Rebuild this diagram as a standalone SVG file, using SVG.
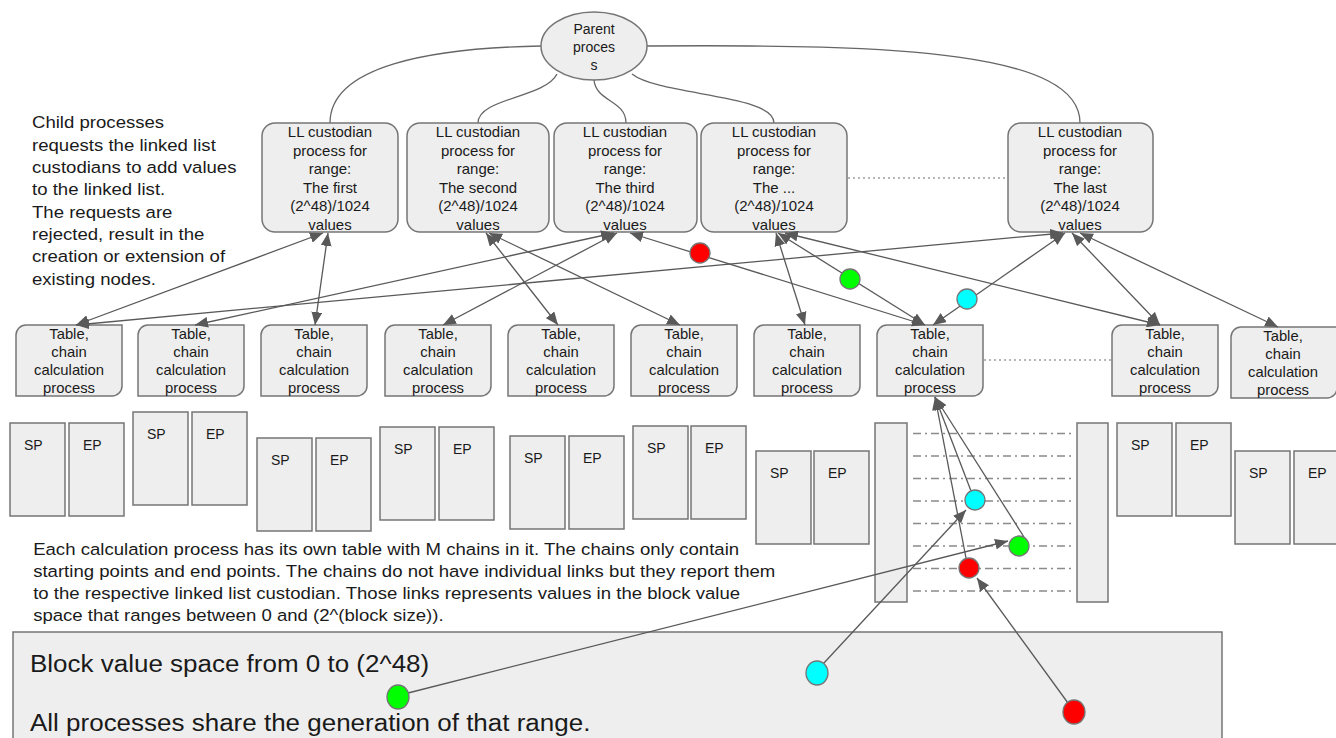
<svg xmlns="http://www.w3.org/2000/svg" xmlns:xlink="http://www.w3.org/1999/xlink" width="1336" height="738" viewBox="0 0 1336 738">
  <style>
    .box { fill: #eeeeee; stroke: #757575; stroke-width: 1.5; }
    .lbl { font-family: "Liberation Sans", Arial, sans-serif; font-size: 14px; fill: #1a1a1a; text-anchor: middle; }
    .sp { font-family: "Liberation Sans", Arial, sans-serif; font-size: 14px; fill: #1a1a1a; }
    .note { font-family: "Liberation Sans", Arial, sans-serif; font-size: 16.5px; fill: #1a1a1a; }
    .big { font-family: "Liberation Sans", Arial, sans-serif; font-size: 23px; fill: #1a1a1a; }
    .link { fill: none; stroke: #595959; stroke-width: 1.3; }
    .curve { fill: none; stroke: #666666; stroke-width: 1.3; }
    .both { marker-start: url(#ah); marker-end: url(#ah); }
    .one { marker-end: url(#ah); }
    .dots { fill: none; stroke: #9e9e9e; stroke-width: 1.3; stroke-dasharray: 2 3; }
    .dashdot { fill: none; stroke: #8a8a8a; stroke-width: 1.5; stroke-dasharray: 8 4 2 4; }
    .dot { stroke: #757575; stroke-width: 1.3; }
  </style>
  <defs>
    <marker id="ah" viewBox="0 0 12 10" refX="12" refY="5" markerWidth="13" markerHeight="11" markerUnits="userSpaceOnUse" orient="auto-start-reverse">
      <path d="M0,0 L12,5 L0,10 z" fill="#595959"/>
    </marker>
    <!-- chain calculation box: rounded top-left and bottom-right corners -->
    <path id="tbl" class="box" d="M10,0 H106 V61 A10,10 0 0 1 96,71 H0 V10 A10,10 0 0 1 10,0 Z"/>
    <rect id="col" class="box" width="55" height="93"/>
    <!-- label stacks, centred on x=0, slightly widened -->
    <g id="calc-text" transform="scale(1.06,1)">
      <text class="lbl" x="0" y="14">Table,</text>
      <text class="lbl" x="0" y="32">chain</text>
      <text class="lbl" x="0" y="50">calculation</text>
      <text class="lbl" x="0" y="68">process</text>
    </g>
  </defs>

  <rect width="1336" height="738" fill="#ffffff"/>

  <!-- bottom value-space panel -->
  <g id="value-space">
    <rect class="box" x="13" y="632" width="1209" height="120"/>
    <g transform="matrix(1.13,0,0,1,-3.9,0)">
      <text class="big" x="30" y="672">Block value space from 0 to (2^48)</text>
      <text class="big" x="30" y="731">All processes share the generation of that range.</text>
    </g>
  </g>

  <!-- parent to custodian curves -->
  <g id="tree">
    <path class="curve" d="M541,46 C430,48 330,66 330,123"/>
    <path class="curve" d="M557,74 C545,98 478,98 478,123"/>
    <path class="curve" d="M594,80 C596,102 626,100 626,123"/>
    <path class="curve" d="M632,74 C660,96 774,94 774,123"/>
    <path class="curve" d="M647,46 C900,44 1080,52 1080,123"/>
  </g>

  <g id="parent">
    <ellipse class="box" cx="594" cy="46" rx="53" ry="34"/>
    <text class="lbl" x="594" y="34">Parent</text>
    <text class="lbl" x="594" y="52">proces</text>
    <text class="lbl" x="594" y="70">s</text>
  </g>

  <!-- linked list custodians -->
  <g id="custodian-1">
    <rect class="box" x="262" y="123" width="136" height="109" rx="13"/>
    <g transform="translate(330,0) scale(1.07,1)">
      <text class="lbl" x="0" y="137.5">LL custodian</text>
      <text class="lbl" x="0" y="156">process for</text>
      <text class="lbl" x="0" y="174.5">range:</text>
      <text class="lbl" x="0" y="193">The first</text>
      <text class="lbl" x="0" y="211.5">(2^48)/1024</text>
      <text class="lbl" x="0" y="230">values</text>
    </g>
  </g>
  <g id="custodian-2">
    <rect class="box" x="407" y="123" width="142" height="109" rx="13"/>
    <g transform="translate(478,0) scale(1.07,1)">
      <text class="lbl" x="0" y="137.5">LL custodian</text>
      <text class="lbl" x="0" y="156">process for</text>
      <text class="lbl" x="0" y="174.5">range:</text>
      <text class="lbl" x="0" y="193">The second</text>
      <text class="lbl" x="0" y="211.5">(2^48)/1024</text>
      <text class="lbl" x="0" y="230">values</text>
    </g>
  </g>
  <g id="custodian-3">
    <rect class="box" x="554" y="123" width="143" height="109" rx="13"/>
    <g transform="translate(625,0) scale(1.07,1)">
      <text class="lbl" x="0" y="137.5">LL custodian</text>
      <text class="lbl" x="0" y="156">process for</text>
      <text class="lbl" x="0" y="174.5">range:</text>
      <text class="lbl" x="0" y="193">The third</text>
      <text class="lbl" x="0" y="211.5">(2^48)/1024</text>
      <text class="lbl" x="0" y="230">values</text>
    </g>
  </g>
  <g id="custodian-4">
    <rect class="box" x="701" y="123" width="146" height="109" rx="13"/>
    <g transform="translate(774,0) scale(1.07,1)">
      <text class="lbl" x="0" y="137.5">LL custodian</text>
      <text class="lbl" x="0" y="156">process for</text>
      <text class="lbl" x="0" y="174.5">range:</text>
      <text class="lbl" x="0" y="193">The ...</text>
      <text class="lbl" x="0" y="211.5">(2^48)/1024</text>
      <text class="lbl" x="0" y="230">values</text>
    </g>
  </g>
  <g id="custodian-last">
    <rect class="box" x="1008" y="123" width="145" height="109" rx="13"/>
    <g transform="translate(1080,0) scale(1.07,1)">
      <text class="lbl" x="0" y="137.5">LL custodian</text>
      <text class="lbl" x="0" y="156">process for</text>
      <text class="lbl" x="0" y="174.5">range:</text>
      <text class="lbl" x="0" y="193">The last</text>
      <text class="lbl" x="0" y="211.5">(2^48)/1024</text>
      <text class="lbl" x="0" y="230">values</text>
    </g>
  </g>

  <!-- chain calculation processes -->
  <g id="calc-1"><use xlink:href="#tbl" x="16" y="325"/><use xlink:href="#calc-text" x="69" y="325"/></g>
  <g id="calc-2"><use xlink:href="#tbl" x="138" y="325"/><use xlink:href="#calc-text" x="191" y="325"/></g>
  <g id="calc-3"><use xlink:href="#tbl" x="261" y="325"/><use xlink:href="#calc-text" x="314" y="325"/></g>
  <g id="calc-4"><use xlink:href="#tbl" x="385" y="325"/><use xlink:href="#calc-text" x="438" y="325"/></g>
  <g id="calc-5"><use xlink:href="#tbl" x="508" y="325"/><use xlink:href="#calc-text" x="561" y="325"/></g>
  <g id="calc-6"><use xlink:href="#tbl" x="631" y="325"/><use xlink:href="#calc-text" x="684" y="325"/></g>
  <g id="calc-7"><use xlink:href="#tbl" x="754" y="325"/><use xlink:href="#calc-text" x="807" y="325"/></g>
  <g id="calc-8"><use xlink:href="#tbl" x="877" y="325"/><use xlink:href="#calc-text" x="930" y="325"/></g>
  <g id="calc-9"><use xlink:href="#tbl" x="1112" y="325"/><use xlink:href="#calc-text" x="1165" y="325"/></g>
  <g id="calc-10"><use xlink:href="#tbl" x="1231" y="327"/><use xlink:href="#calc-text" x="1283" y="327"/></g>

  <!-- start point / end point tables -->
  <g id="tables">
    <use xlink:href="#col" x="10" y="423"/><use xlink:href="#col" x="69" y="423"/>
    <text class="sp" x="24" y="450">SP</text><text class="sp" x="83" y="450">EP</text>
    <use xlink:href="#col" x="133" y="412"/><use xlink:href="#col" x="192" y="412"/>
    <text class="sp" x="147" y="439">SP</text><text class="sp" x="206" y="439">EP</text>
    <use xlink:href="#col" x="257" y="438"/><use xlink:href="#col" x="316" y="438"/>
    <text class="sp" x="271" y="465">SP</text><text class="sp" x="330" y="465">EP</text>
    <use xlink:href="#col" x="380" y="427"/><use xlink:href="#col" x="439" y="427"/>
    <text class="sp" x="394" y="454">SP</text><text class="sp" x="453" y="454">EP</text>
    <use xlink:href="#col" x="510" y="436"/><use xlink:href="#col" x="569" y="436"/>
    <text class="sp" x="524" y="463">SP</text><text class="sp" x="583" y="463">EP</text>
    <use xlink:href="#col" x="633" y="426"/><use xlink:href="#col" x="691" y="426"/>
    <text class="sp" x="647" y="453">SP</text><text class="sp" x="705" y="453">EP</text>
    <use xlink:href="#col" x="756" y="451"/><use xlink:href="#col" x="814" y="451"/>
    <text class="sp" x="770" y="478">SP</text><text class="sp" x="828" y="478">EP</text>
    <use xlink:href="#col" x="1117" y="423"/><use xlink:href="#col" x="1176" y="423"/>
    <text class="sp" x="1131" y="450">SP</text><text class="sp" x="1190" y="450">EP</text>
    <use xlink:href="#col" x="1235" y="451"/><use xlink:href="#col" x="1294" y="451"/>
    <text class="sp" x="1249" y="478">SP</text><text class="sp" x="1308" y="478">EP</text>
  </g>

  <!-- zoomed chain table with its rows -->
  <g id="chain-table">
    <rect class="box" x="875" y="423" width="32" height="179"/>
    <rect class="box" x="1077" y="423" width="31" height="179"/>
    <path class="dashdot" d="M913,433.5 H1072 M913,456 H1072 M913,478.5 H1072 M913,501 H1072 M913,523.5 H1072 M913,546 H1072 M913,568.5 H1072 M913,591 H1072"/>
  </g>

  <!-- explanatory notes -->
  <g id="notes" transform="matrix(1.127,0,0,1,-4.06,0)">
    <text class="note" x="32" y="128.5">Child processes</text>
    <text class="note" x="32" y="150.8">requests the linked list</text>
    <text class="note" x="32" y="173.1">custodians to add values</text>
    <text class="note" x="32" y="195.4">to the linked list.</text>
    <text class="note" x="32" y="217.7">The requests are</text>
    <text class="note" x="32" y="240">rejected, result in the</text>
    <text class="note" x="32" y="262.3">creation or extension of</text>
    <text class="note" x="32" y="284.6">existing nodes.</text>
    <text class="note" x="33" y="555">Each calculation process has its own table with M chains in it. The chains only contain</text>
    <text class="note" x="33" y="577">starting points and end points. The chains do not have individual links but they report them</text>
    <text class="note" x="33" y="599">to the respective linked list custodian. Those links represents values in the block value</text>
    <text class="note" x="33" y="621">space that ranges between 0 and (2^(block size)).</text>
  </g>

  <!-- connectors -->
  <g id="connectors">
    <path class="dots" d="M848,178 H1007"/>
    <path class="dots" d="M984,360 H1111"/>
    <path class="link both" d="M76,325 L323,233"/>
    <path class="link both" d="M76,325 L1063,233"/>
    <path class="link both" d="M195,325 L614,233"/>
    <path class="link both" d="M315,325 L328,233"/>
    <path class="link both" d="M443,325 L617,233"/>
    <path class="link both" d="M486,233 L558,325"/>
    <path class="link both" d="M489,233 L680,325"/>
    <path class="link both" d="M630,233 L925,325"/>
    <path class="link both" d="M776,233 L805,325"/>
    <path class="link both" d="M778,233 L925,325"/>
    <path class="link both" d="M785,233 L1160,325"/>
    <path class="link both" d="M1065,233 L933,325"/>
    <path class="link both" d="M1072,233 L1160,325"/>
    <path class="link both" d="M1080,233 L1278,327"/>
    <path class="link one" d="M966,558 L935,397"/>
    <path class="link one" d="M971,491 L935,397"/>
    <path class="link one" d="M1024,537 L935,397"/>
    <path class="link one" d="M408,693 L1008,541"/>
    <path class="link one" d="M823,664 L966,510"/>
    <path class="link one" d="M1068,703 L977,578"/>
  </g>

  <!-- value markers -->
  <g id="markers">
    <circle class="dot" cx="700" cy="253" r="10" fill="#ff0000"/>
    <circle class="dot" cx="850" cy="279" r="10" fill="#00ff00"/>
    <circle class="dot" cx="967" cy="299" r="10" fill="#00ffff"/>
    <circle class="dot" cx="975" cy="500" r="10" fill="#00ffff"/>
    <circle class="dot" cx="1019" cy="546" r="10" fill="#00ff00"/>
    <circle class="dot" cx="969" cy="568" r="10" fill="#ff0000"/>
    <ellipse class="dot" cx="817" cy="673" rx="11" ry="12" fill="#00ffff"/>
    <ellipse class="dot" cx="398" cy="697" rx="11" ry="12" fill="#00ff00"/>
    <ellipse class="dot" cx="1074" cy="712" rx="11" ry="12" fill="#ff0000"/>
  </g>
</svg>
